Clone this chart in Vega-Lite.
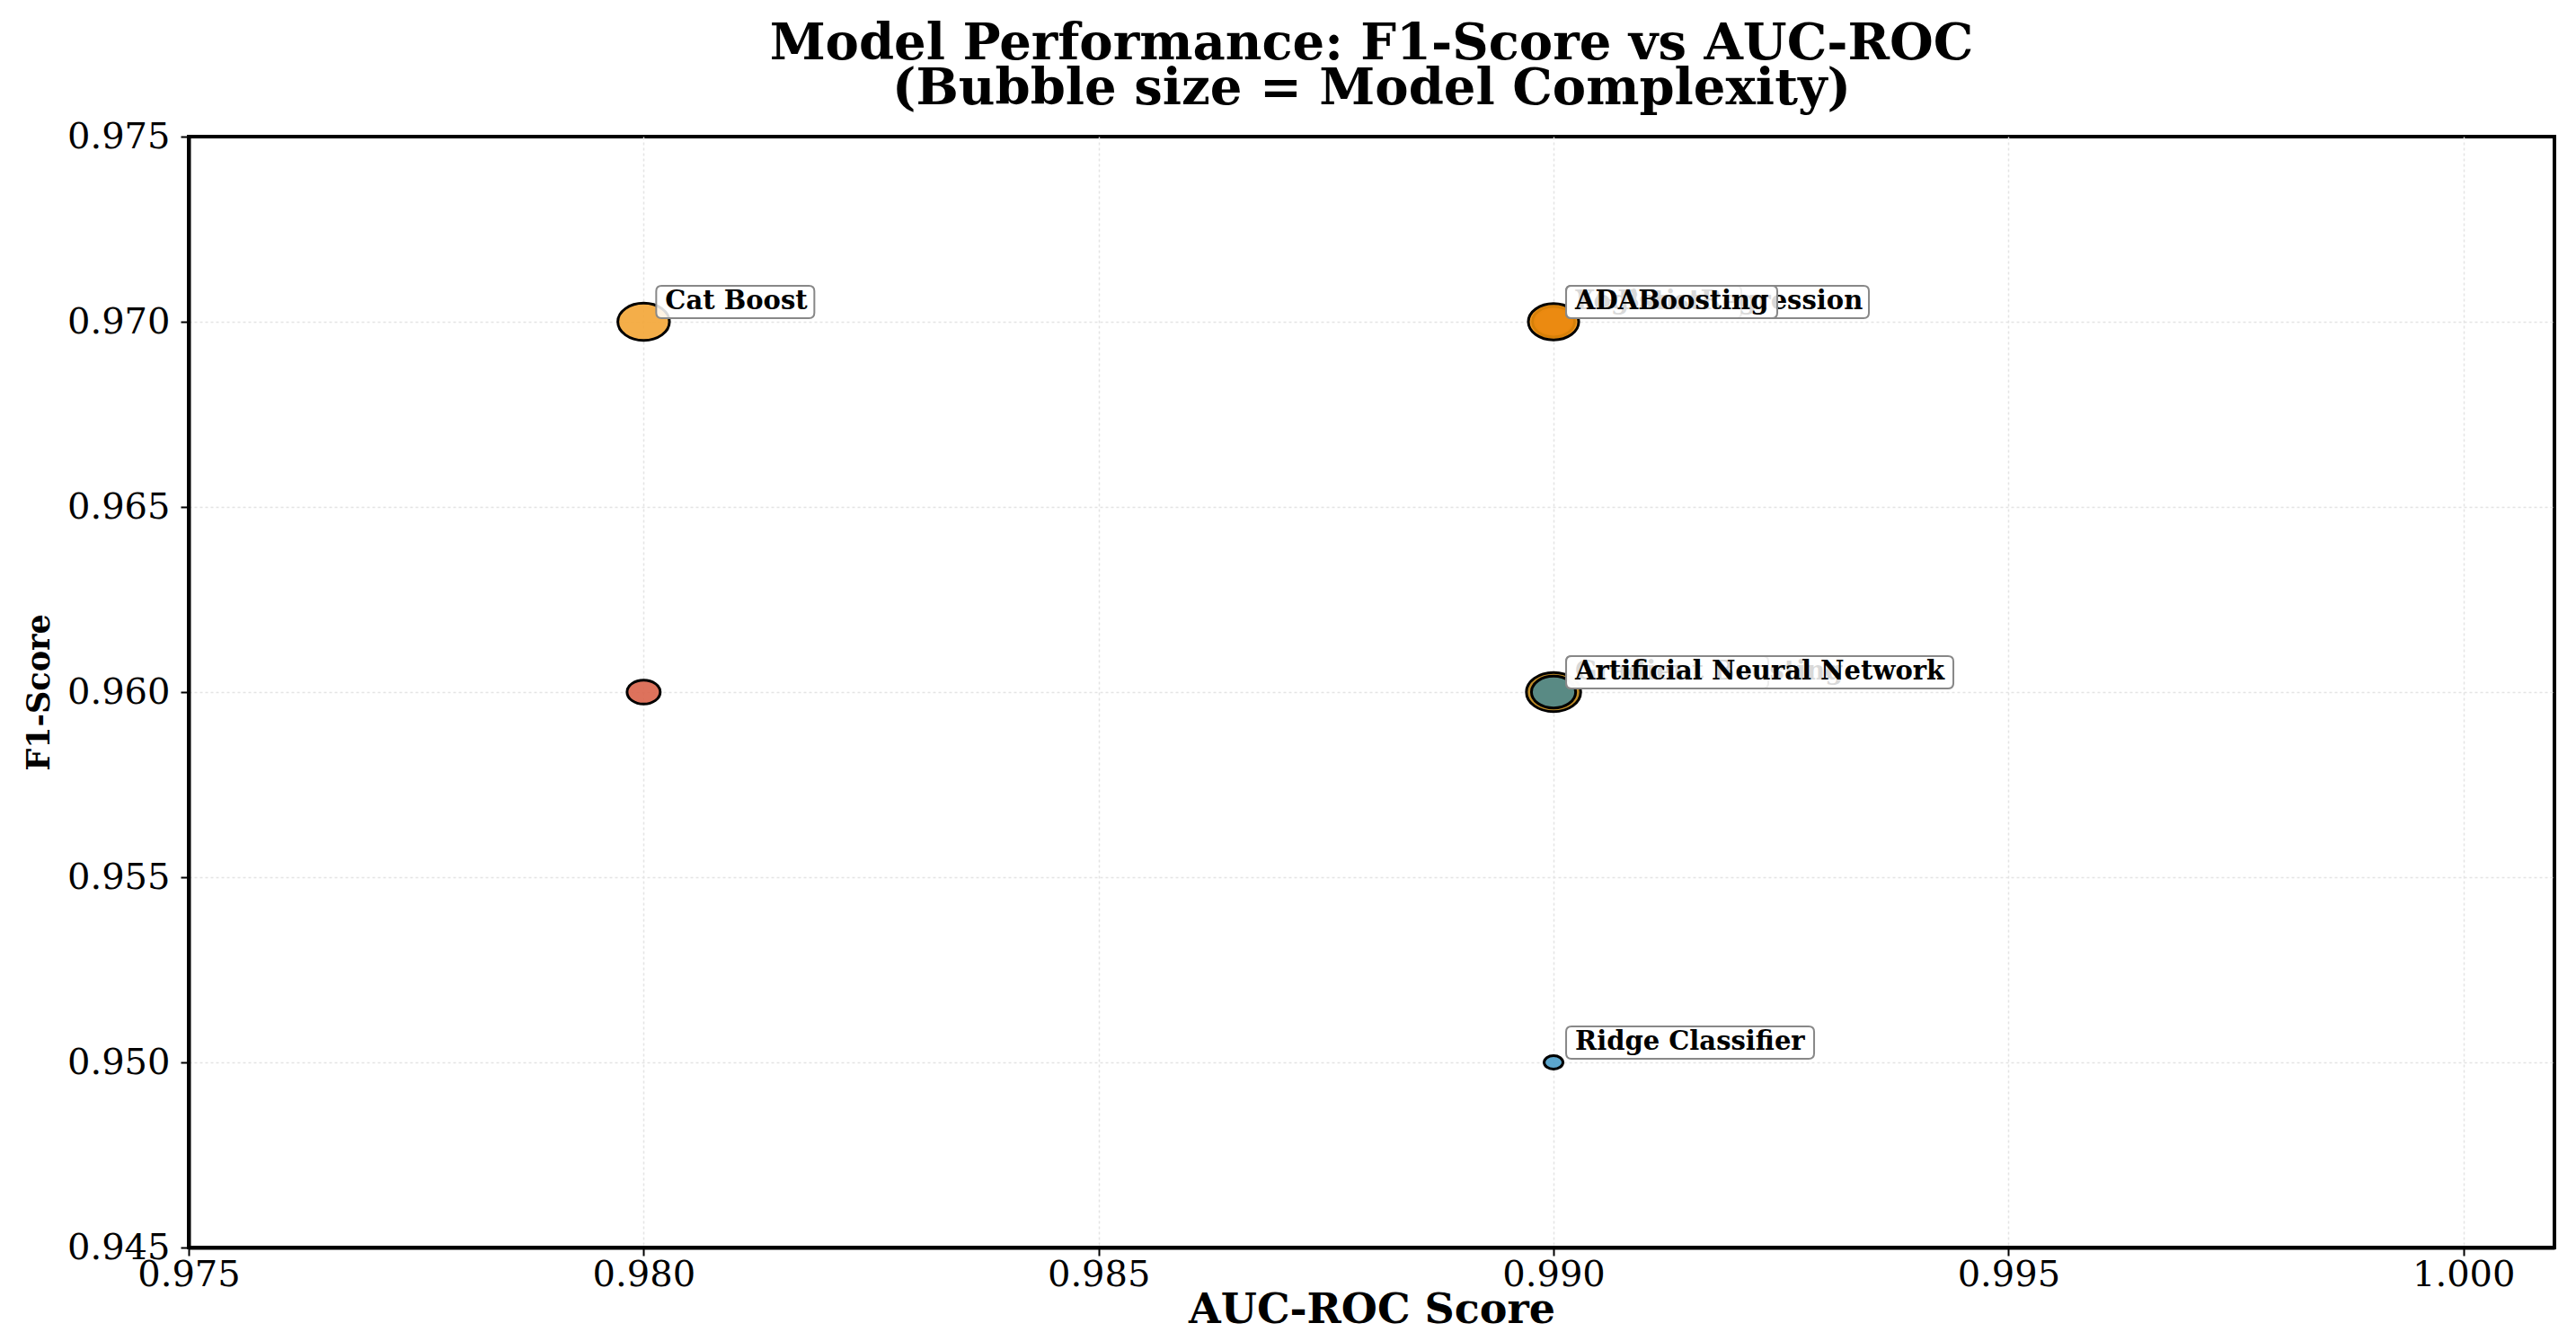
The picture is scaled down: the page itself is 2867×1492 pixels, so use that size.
{
  "$schema": "https://vega.github.io/schema/vega-lite/v6.json",
  "width": 2633,
  "height": 1236,
  "autosize": "none",
  "padding": {"left": 210, "top": 152, "right": 24, "bottom": 104},
  "background": "white",
  "title": {
    "text": ["Model Performance: F1-Score vs AUC-ROC", "(Bubble size = Model Complexity)"],
    "font": "DejaVu Serif",
    "fontWeight": "bold",
    "fontSize": 56,
    "lineHeight": 50,
    "color": "black",
    "anchor": "middle",
    "offset": 4
  },
  "config": {
    "view": {"stroke": "black", "strokeWidth": 4},
    "axis": {
      "labelFont": "DejaVu Serif",
      "labelFontSize": 40,
      "labelColor": "black",
      "titleFont": "DejaVu Serif",
      "titleFontWeight": "bold",
      "titleColor": "black",
      "domainColor": "black",
      "domainWidth": 4,
      "tickColor": "black",
      "tickWidth": 2,
      "tickSize": 9,
      "gridColor": "#e4e4e4",
      "gridDash": [3, 3],
      "gridWidth": 1.5,
      "labelFlush": false,
      "format": ".3f"
    }
  },
  "data": {
    "values": [
      {"model": "Cat Boost", "auc": 0.98, "f1": 0.97, "complexity": 15, "labelled": "top"},
      {"model": "Random Forest", "auc": 0.98, "f1": 0.96, "complexity": 6.2, "labelled": "none"},
      {"model": "Logistic Regression", "auc": 0.99, "f1": 0.97, "complexity": 8, "labelled": "under"},
      {"model": "XGBoost", "auc": 0.99, "f1": 0.97, "complexity": 10, "labelled": "under"},
      {"model": "ADABoosting", "auc": 0.99, "f1": 0.97, "complexity": 14.3, "labelled": "top"},
      {"model": "Gradient Boosting", "auc": 0.99, "f1": 0.96, "complexity": 16.6, "labelled": "under"},
      {"model": "Artificial Neural Network", "auc": 0.99, "f1": 0.96, "complexity": 11, "labelled": "top"},
      {"model": "Ridge Classifier", "auc": 0.99, "f1": 0.95, "complexity": 2, "labelled": "top"}
    ]
  },
  "encoding": {
    "x": {
      "field": "auc",
      "type": "quantitative",
      "scale": {"domain": [0.975, 1.001], "nice": false, "zero": false},
      "axis": {
        "title": "AUC-ROC Score",
        "titleFontSize": 46,
        "values": [0.975, 0.98, 0.985, 0.99, 0.995, 1.0],
        "labelPadding": 1,
        "titlePadding": -3,
        "gridOpacity": {"condition": {"test": "datum.value < 0.9751", "value": 0}, "value": 1}
      }
    },
    "y": {
      "field": "f1",
      "type": "quantitative",
      "scale": {"domain": [0.945, 0.975], "nice": false, "zero": false},
      "axis": {
        "title": "F1-Score",
        "titleFontSize": 35,
        "values": [0.945, 0.95, 0.955, 0.96, 0.965, 0.97, 0.975],
        "labelPadding": 12,
        "titlePadding": 13,
        "gridOpacity": {"condition": {"test": "datum.value > 0.9749 || datum.value < 0.9451", "value": 0}, "value": 1}
      }
    }
  },
  "layer": [
    {
      "mark": {
        "type": "point",
        "filled": true,
        "shape": "M-1,0A1,0.72 0 1,0 1,0A1,0.72 0 1,0 -1,0Z",
        "stroke": "black",
        "strokeWidth": 3,
        "opacity": 1,
        "fillOpacity": 0.9
      },
      "encoding": {
        "size": {
          "field": "complexity",
          "type": "quantitative",
          "scale": {"domain": [0, 16], "range": [0, 3520]},
          "legend": null
        },
        "color": {
          "field": "model",
          "type": "nominal",
          "scale": {
            "domain": ["Cat Boost", "Random Forest", "Logistic Regression", "XGBoost", "ADABoosting", "Gradient Boosting", "Artificial Neural Network", "Ridge Classifier"],
            "range": ["#F3A535", "#D9634A", "#4A9CC8", "#D9634A", "#EE8E0A", "#B8800F", "#4E8A8F", "#4A9CC8"]
          },
          "legend": null
        }
      }
    },
    {
      "transform": [{"filter": "datum.labelled == 'under'"}],
      "mark": {"type": "point", "filled": true, "size": 10000, "fill": "white", "fillOpacity": 0.85, "stroke": "#888888", "strokeWidth": 2, "opacity": 1},
      "encoding": {
        "shape": {
          "field": "model",
          "type": "nominal",
          "scale": {
            "domain": ["Cat Boost", "Logistic Regression", "XGBoost", "ADABoosting", "Gradient Boosting", "Artificial Neural Network", "Ridge Classifier"],
            "range": [
              "M0.4,-0.8H3.68Q3.8,-0.8 3.8,-0.68V-0.2Q3.8,-0.08 3.68,-0.08H0.4Q0.28,-0.08 0.28,-0.2V-0.68Q0.28,-0.8 0.4,-0.8Z",
              "M0.4,-0.8H6.9Q7.02,-0.8 7.02,-0.68V-0.2Q7.02,-0.08 6.9,-0.08H0.4Q0.28,-0.08 0.28,-0.2V-0.68Q0.28,-0.8 0.4,-0.8Z",
              "M0.4,-0.8H4.06Q4.18,-0.8 4.18,-0.68V-0.2Q4.18,-0.08 4.06,-0.08H0.4Q0.28,-0.08 0.28,-0.2V-0.68Q0.28,-0.8 0.4,-0.8Z",
              "M0.4,-0.8H4.86Q4.98,-0.8 4.98,-0.68V-0.2Q4.98,-0.08 4.86,-0.08H0.4Q0.28,-0.08 0.28,-0.2V-0.68Q0.28,-0.8 0.4,-0.8Z",
              "M0.4,-0.8H4.66Q4.78,-0.8 4.78,-0.68V-0.2Q4.78,-0.08 4.66,-0.08H0.4Q0.28,-0.08 0.28,-0.2V-0.68Q0.28,-0.8 0.4,-0.8Z",
              "M0.4,-0.8H8.78Q8.9,-0.8 8.9,-0.68V-0.2Q8.9,-0.08 8.78,-0.08H0.4Q0.28,-0.08 0.28,-0.2V-0.68Q0.28,-0.8 0.4,-0.8Z",
              "M0.4,-0.8H5.68Q5.8,-0.8 5.8,-0.68V-0.2Q5.8,-0.08 5.68,-0.08H0.4Q0.28,-0.08 0.28,-0.2V-0.68Q0.28,-0.8 0.4,-0.8Z"
            ]
          },
          "legend": null
        }
      }
    },
    {
      "transform": [{"filter": "datum.labelled == 'under'"}],
      "mark": {"type": "text", "align": "left", "baseline": "alphabetic", "dx": 24, "dy": -14, "font": "DejaVu Serif", "fontWeight": "bold", "fontSize": 29, "fill": "black"},
      "encoding": {"text": {"field": "model"}}
    },
    {
      "transform": [{"filter": "datum.labelled == 'top'"}],
      "mark": {"type": "point", "filled": true, "size": 10000, "fill": "white", "fillOpacity": 0.85, "stroke": "#888888", "strokeWidth": 2, "opacity": 1},
      "encoding": {
        "shape": {
          "field": "model",
          "type": "nominal",
          "scale": {
            "domain": ["Cat Boost", "Logistic Regression", "XGBoost", "ADABoosting", "Gradient Boosting", "Artificial Neural Network", "Ridge Classifier"],
            "range": [
              "M0.4,-0.8H3.68Q3.8,-0.8 3.8,-0.68V-0.2Q3.8,-0.08 3.68,-0.08H0.4Q0.28,-0.08 0.28,-0.2V-0.68Q0.28,-0.8 0.4,-0.8Z",
              "M0.4,-0.8H6.9Q7.02,-0.8 7.02,-0.68V-0.2Q7.02,-0.08 6.9,-0.08H0.4Q0.28,-0.08 0.28,-0.2V-0.68Q0.28,-0.8 0.4,-0.8Z",
              "M0.4,-0.8H4.06Q4.18,-0.8 4.18,-0.68V-0.2Q4.18,-0.08 4.06,-0.08H0.4Q0.28,-0.08 0.28,-0.2V-0.68Q0.28,-0.8 0.4,-0.8Z",
              "M0.4,-0.8H4.86Q4.98,-0.8 4.98,-0.68V-0.2Q4.98,-0.08 4.86,-0.08H0.4Q0.28,-0.08 0.28,-0.2V-0.68Q0.28,-0.8 0.4,-0.8Z",
              "M0.4,-0.8H4.66Q4.78,-0.8 4.78,-0.68V-0.2Q4.78,-0.08 4.66,-0.08H0.4Q0.28,-0.08 0.28,-0.2V-0.68Q0.28,-0.8 0.4,-0.8Z",
              "M0.4,-0.8H8.78Q8.9,-0.8 8.9,-0.68V-0.2Q8.9,-0.08 8.78,-0.08H0.4Q0.28,-0.08 0.28,-0.2V-0.68Q0.28,-0.8 0.4,-0.8Z",
              "M0.4,-0.8H5.68Q5.8,-0.8 5.8,-0.68V-0.2Q5.8,-0.08 5.68,-0.08H0.4Q0.28,-0.08 0.28,-0.2V-0.68Q0.28,-0.8 0.4,-0.8Z"
            ]
          },
          "legend": null
        }
      }
    },
    {
      "transform": [{"filter": "datum.labelled == 'top'"}],
      "mark": {"type": "text", "align": "left", "baseline": "alphabetic", "dx": 24, "dy": -14, "font": "DejaVu Serif", "fontWeight": "bold", "fontSize": 29, "fill": "black"},
      "encoding": {"text": {"field": "model"}}
    }
  ]
}
